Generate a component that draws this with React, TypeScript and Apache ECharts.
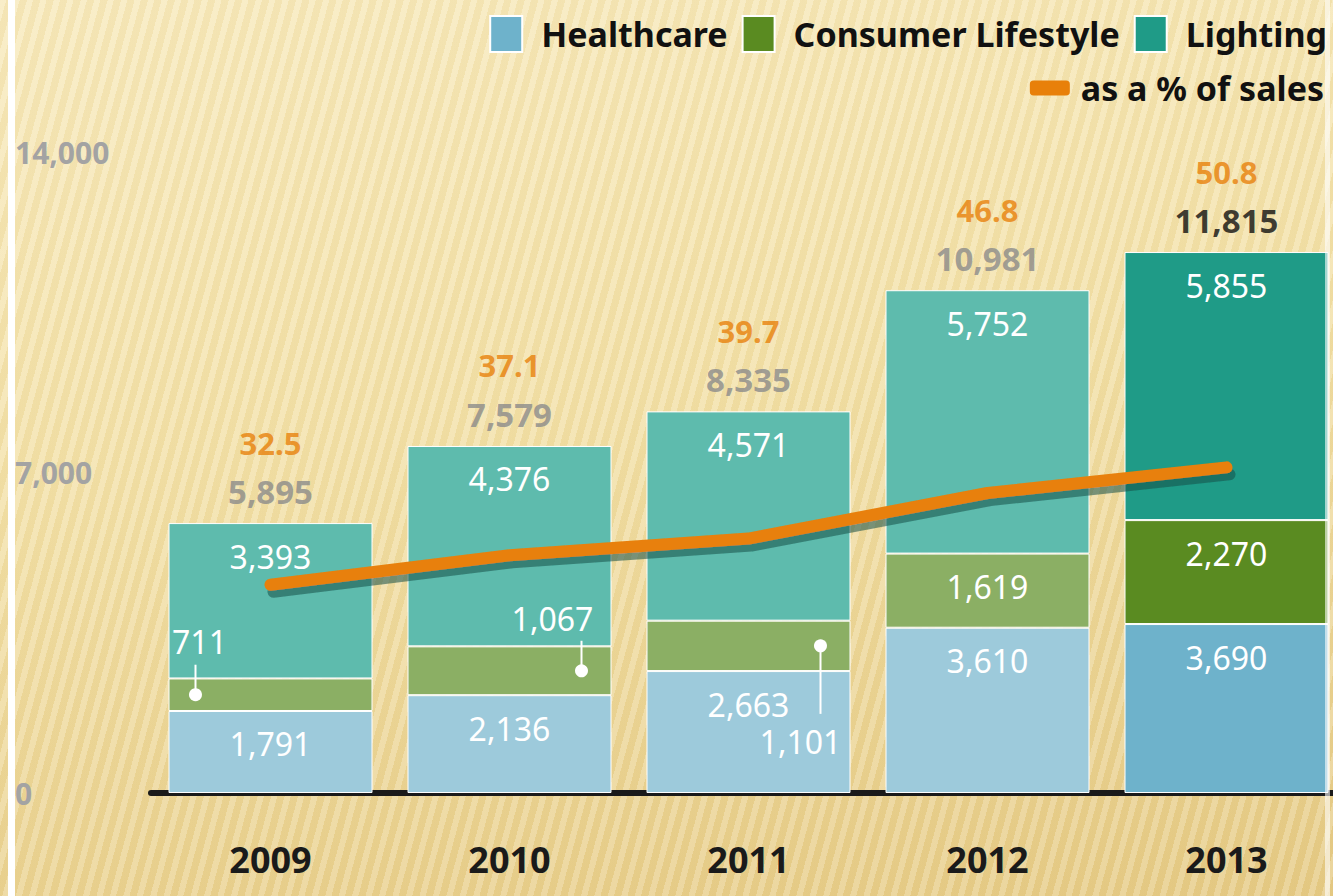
import React, { useEffect, useRef } from 'react';
import * as echarts from 'echarts';

// ---- data ----
const years = ['2009', '2010', '2011', '2012', '2013'];
const healthcare = [1791, 2136, 2663, 3610, 3690];
const consumerLifestyle = [711, 1067, 1101, 1619, 2270];
const lighting = [3393, 4376, 4571, 5752, 5855];
const totals = [5895, 7579, 8335, 10981, 11815];
const pctOfSales = [32.5, 37.1, 39.7, 46.8, 50.8];
const yMax = 14000;
const yInterval = 7000;
const highlightYear = '2013';
const calloutYears = ['2009', '2010', '2011'];

// ---- styling ----
const FONT = 'Noto Sans';
const colors = {
  healthcare: '#9DCADB',
  healthcareDark: '#6EB2CB',
  consumer: '#8BAF64',
  consumerDark: '#5A8B21',
  lighting: '#5EBBAD',
  lightingDark: '#1F9B87',
  line: '#E8800A',
};
const calloutStyle: Record<string, { dotDx: number; lineDy: number; textDx: number; textDy: number }> = {
  '2009': { dotDx: -75, lineDy: -30, textDx: -71, textDy: -53 },
  '2010': { dotDx: 72, lineDy: -30, textDx: 43, textDy: -52 },
  '2011': { dotDx: 72, lineDy: 68, textDx: 52, textDy: 96 },
};

const fmt = (v: number) => Number(v).toLocaleString('en-US');

function barData(vals: number[], dark: string, hideLabelYears: string[] = []) {
  return vals.map((v, i) => {
    const item: any = { value: v };
    if (years[i] === highlightYear) item.itemStyle = { color: dark };
    if (hideLabelYears.includes(years[i])) item.label = { show: false };
    return item;
  });
}

const insideLabel = {
  show: true,
  position: 'insideTop',
  distance: 17,
  color: '#ffffff',
  fontSize: 32,
  fontFamily: FONT,
  formatter: (p: any) => fmt(p.value),
};

const CHART_W = 1346;
const CHART_H = 896;

export default function App() {
  const ref = useRef<HTMLDivElement>(null);
  useEffect(() => {
    if (!ref.current) return;
    const chart = echarts.init(ref.current, undefined, { renderer: 'svg' });
    const legendText = { fontSize: 34, fontWeight: 'bold', color: '#111', fontFamily: FONT };
    const option: any = {
      animation: false,
      backgroundColor: 'transparent',
      textStyle: { fontFamily: FONT },
      grid: { left: 151, right: 0, top: 152, bottom: 103, containLabel: false },
      legend: [
        {
          top: 10,
          right: 14,
          icon: 'rect',
          itemWidth: 32,
          itemHeight: 36,
          itemGap: 14,
          selectedMode: false,
          data: [
            { name: 'Healthcare', itemStyle: { color: colors.healthcareDark } },
            { name: 'Consumer Lifestyle', itemStyle: { color: colors.consumerDark } },
            { name: 'Lighting', itemStyle: { color: colors.lightingDark } },
          ],
          textStyle: { ...legendText, padding: [0, 0, 0, 14] },
        },
        {
          top: 66,
          right: 17,
          icon: 'roundRect',
          itemWidth: 40,
          itemHeight: 15,
          selectedMode: false,
          data: [{ name: 'as a % of sales', itemStyle: { color: colors.line } }],
          textStyle: { ...legendText, padding: [0, 0, 0, 6] },
        },
      ],
      xAxis: {
        type: 'category',
        data: years,
        axisLine: { lineStyle: { color: '#1a1a1a', width: 6 } },
        axisTick: { show: false },
        axisLabel: { margin: 48, fontSize: 36, fontWeight: 'bold', color: '#1a1a1a', fontFamily: FONT },
      },
      yAxis: [
        {
          type: 'value',
          min: 0,
          max: yMax,
          interval: yInterval,
          splitLine: { show: false },
          axisLine: { show: false },
          axisTick: { show: false },
          axisLabel: {
            align: 'left',
            margin: 136,
            color: '#a3a3a3',
            fontSize: 30,
            fontWeight: 'bold',
            fontFamily: FONT,
            formatter: (v: number) => fmt(v),
          },
        },
        { type: 'value', min: 0, max: 100, show: false },
      ],
      graphic: [
        { type: 'rect', left: 8, top: 0, shape: { width: 7, height: CHART_H }, style: { fill: '#ffffff' }, z: 100 },
        { type: 'rect', left: 1325, top: 0, shape: { width: 5, height: CHART_H }, style: { fill: 'rgba(255,255,255,0.6)' }, z: 100 },
      ],
      series: [
        {
          name: 'Healthcare',
          type: 'bar',
          stack: 'sales',
          barWidth: 204,
          itemStyle: { color: colors.healthcare, borderColor: '#ffffff', borderWidth: 1 },
          label: insideLabel,
          data: barData(healthcare, colors.healthcareDark),
        },
        {
          name: 'Consumer Lifestyle',
          type: 'bar',
          stack: 'sales',
          barWidth: 204,
          itemStyle: { color: colors.consumer, borderColor: '#ffffff', borderWidth: 1 },
          label: insideLabel,
          data: barData(consumerLifestyle, colors.consumerDark, calloutYears),
        },
        {
          name: 'Lighting',
          type: 'bar',
          stack: 'sales',
          barWidth: 204,
          itemStyle: { color: colors.lighting, borderColor: '#ffffff', borderWidth: 1 },
          label: insideLabel,
          data: barData(lighting, colors.lightingDark),
        },
        {
          name: 'callouts',
          type: 'custom',
          silent: true,
          z: 4,
          encode: { x: 0, y: 1 },
          data: years
            .map((y, i) => [i, healthcare[i], consumerLifestyle[i]])
            .filter((d) => calloutYears.includes(years[d[0]])),
          renderItem: (params: any, api: any) => {
            const idx = api.value(0);
            const base = api.value(1);
            const val = api.value(2);
            const p = api.coord([idx, base + val / 2]);
            const s = calloutStyle[years[idx]];
            const dx = p[0] + s.dotDx;
            return {
              type: 'group',
              children: [
                { type: 'line', shape: { x1: dx, y1: p[1], x2: dx, y2: p[1] + s.lineDy }, style: { stroke: '#ffffff', lineWidth: 2 } },
                { type: 'circle', shape: { cx: dx, cy: p[1], r: 6.5 }, style: { fill: '#ffffff' } },
                {
                  type: 'text',
                  x: p[0] + s.textDx,
                  y: p[1] + s.textDy,
                  style: {
                    text: fmt(val),
                    fill: '#ffffff',
                    fontSize: 32,
                    fontFamily: FONT,
                    align: 'center',
                    verticalAlign: 'middle',
                  },
                },
              ],
            };
          },
        },
        {
          name: 'as a % of sales',
          type: 'line',
          yAxisIndex: 1,
          data: pctOfSales,
          symbol: 'none',
          z: 5,
          itemStyle: { color: colors.line },
          lineStyle: {
            color: colors.line,
            width: 12,
            cap: 'round',
            join: 'round',
            shadowColor: 'rgba(20,80,70,0.55)',
            shadowOffsetX: 3,
            shadowOffsetY: 7,
            shadowBlur: 1,
          },
        },
        {
          name: 'totals',
          type: 'scatter',
          data: totals,
          symbolSize: 1,
          silent: true,
          z: 6,
          itemStyle: { color: 'rgba(0,0,0,0)' },
          label: {
            show: true,
            position: 'top',
            distance: 10,
            formatter: (p: any) =>
              `{p|${pctOfSales[p.dataIndex].toFixed(1)}}\n{${years[p.dataIndex] === highlightYear ? 'tb' : 't'}|${fmt(p.value)}}`,
            rich: {
              p: { color: colors.line, fontSize: 31, fontWeight: 'bold', fontFamily: FONT, lineHeight: 56 },
              t: { color: '#8a8a8a', fontSize: 33, fontWeight: 'bold', fontFamily: FONT, lineHeight: 42 },
              tb: { color: '#0d0d0d', fontSize: 33, fontWeight: 'bold', fontFamily: FONT, lineHeight: 42 },
            },
          },
        },
      ],
    };
    chart.setOption(option);
    return () => chart.dispose();
  }, []);

  return (
    <div
      style={{
        position: 'fixed',
        left: 0,
        top: 0,
        width: 1333,
        height: CHART_H,
        overflow: 'hidden',
        background:
          'repeating-linear-gradient(105deg, rgba(255,255,255,0.18) 0px, rgba(255,255,255,0.18) 6px, rgba(170,130,30,0.05) 6px, rgba(170,130,30,0.05) 13px), linear-gradient(170deg, #F8EABD 0%, #F3E1A8 45%, #E6CB86 100%)',
      }}
    >
      <div ref={ref} style={{ width: CHART_W, height: CHART_H }} />
    </div>
  );
}
